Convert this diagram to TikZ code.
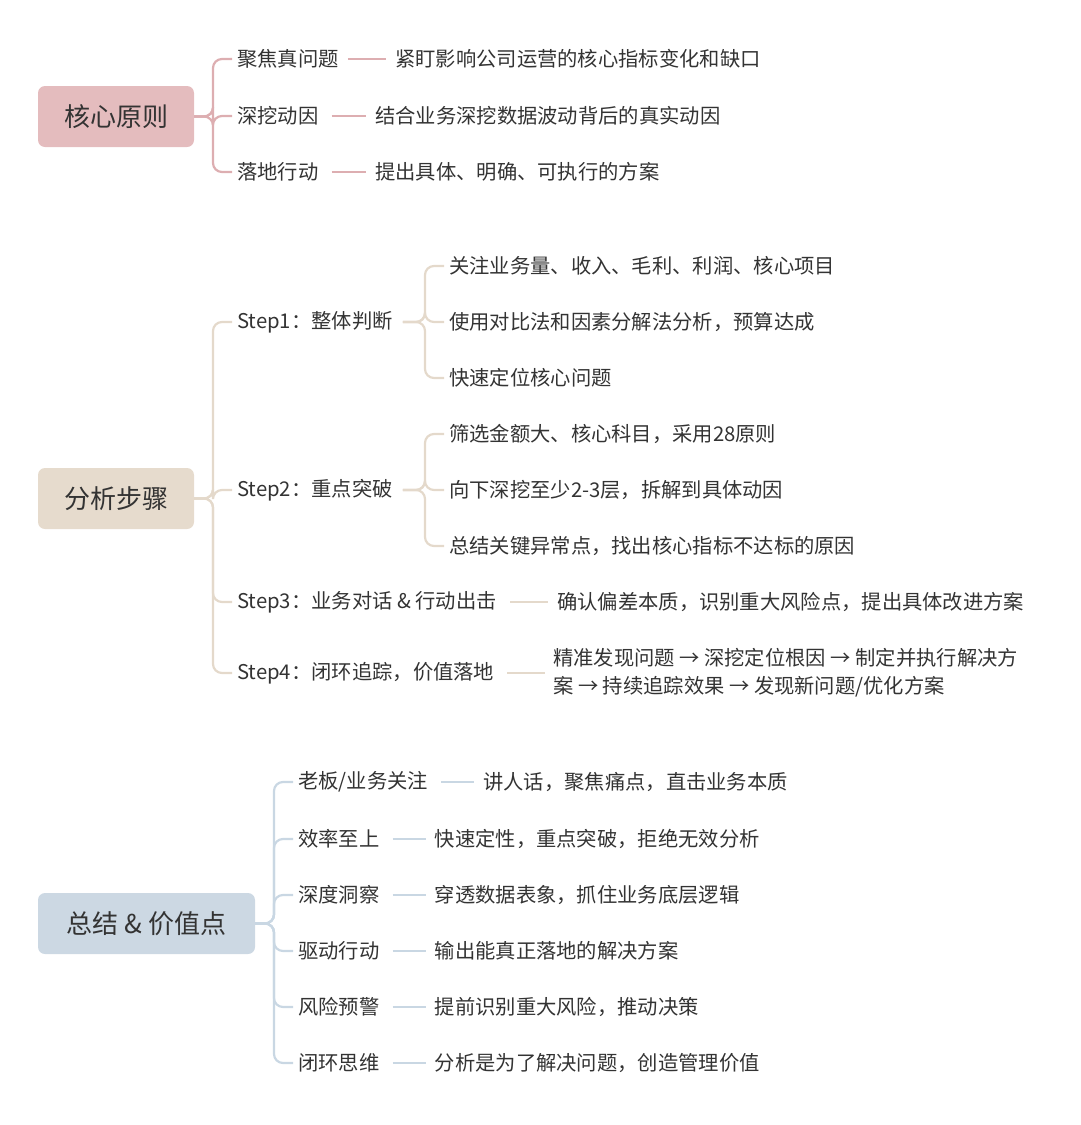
\documentclass[tikz,border=0pt]{standalone}
\usepackage{fontspec}
\setmainfont{Noto Sans CJK SC}
\definecolor{txt}{HTML}{333333}
\definecolor{pA}{HTML}{E4BCBE}\definecolor{lA}{HTML}{DDAEB1}
\definecolor{pB}{HTML}{E6DBCD}\definecolor{lB}{HTML}{E4D9CB}
\definecolor{pC}{HTML}{CCD8E3}\definecolor{lC}{HTML}{C9D7E3}
\tikzset{
 rootbox/.style={rounded corners=7pt,minimum height=61pt,text=txt,font=\fontsize{26}{30}\selectfont,inner xsep=22pt},
 item/.style={anchor=west,inner sep=0pt,text=txt,font=\fontsize{20.3}{28}\selectfont},
 ln/.style={line width=2.2pt,rounded corners=9pt},
}
\begin{document}
\begin{tikzpicture}[x=1pt,y=-1pt]
\useasboundingbox (0,0) rectangle (1080,1125);
% group 1
\node[rootbox,fill=pA,minimum width=156pt] (r1) at (116,116.5) {核心原则};
\node[item] (a1) at (237,59) {聚焦真问题};
\node[item] (a2) at (237,116) {深挖动因};
\node[item] (a3) at (237,172) {落地行动};
\node[item] (d1) at (395,59) {紧盯影响公司运营的核心指标变化和缺口};
\node[item] (d2) at (375,116) {结合业务深挖数据波动背后的真实动因};
\node[item] (d3) at (375,172) {提出具体、明确、可执行的方案};
\foreach \c in {a1,a2,a3}{\draw[ln,lA] (r1.east) -- (213,116.5) |- ([xshift=-5pt]\c.west);}
\draw[ln,lA] ([xshift=9pt]a1.east) -- ([xshift=-9pt]d1.west);
\draw[ln,lA] ([xshift=13pt]a2.east) -- ([xshift=-9pt]d2.west);
\draw[ln,lA] ([xshift=13pt]a3.east) -- ([xshift=-9pt]d3.west);
% group 2
\node[rootbox,fill=pB,minimum width=156pt] (r2) at (116,498.5) {分析步骤};
\node[item] (s1) at (237,322) {Step1：整体判断};
\node[item] (s2) at (237,490) {Step2：重点突破};
\node[item] (s3) at (237,602) {Step3：业务对话 \& 行动出击};
\node[item] (s4) at (237,673) {Step4：闭环追踪，价值落地};
\foreach \c in {s1,s2,s3,s4}{\draw[ln,lB] (r2.east) -- (213,498.5) |- ([xshift=-5pt]\c.west);}
\node[item] (e1) at (449,266) {关注业务量、收入、毛利、利润、核心项目};
\node[item] (e2) at (449,322) {使用对比法和因素分解法分析，预算达成};
\node[item] (e3) at (449,378) {快速定位核心问题};
\foreach \c in {e1,e2,e3}{\draw[ln,lB] ([xshift=10pt]s1.east) -- (425,322) |- ([xshift=-5pt]\c.west);}
\node[item] (f1) at (449,434) {筛选金额大、核心科目，采用28原则};
\node[item] (f2) at (449,490) {向下深挖至少2-3层，拆解到具体动因};
\node[item] (f3) at (449,546) {总结关键异常点，找出核心指标不达标的原因};
\foreach \c in {f1,f2,f3}{\draw[ln,lB] ([xshift=10pt]s2.east) -- (425,490) |- ([xshift=-5pt]\c.west);}
\node[item] (g3) at (557,602) {确认偏差本质，识别重大风险点，提出具体改进方案};
\draw[ln,lB] ([xshift=13pt]s3.east) -- ([xshift=-9pt]g3.west);
\node[item,align=left,font=\fontsize{20.3}{28}\selectfont] (g4) at (553,673) {精准发现问题 → 深挖定位根因 → 制定并执行解决方\\案 → 持续追踪效果 → 发现新问题/优化方案};
\draw[ln,lB] ([xshift=13pt]s4.east) -- ([xshift=-8pt]g4.west);
% group 3
\node[rootbox,fill=pC,minimum width=217pt] (r3) at (146.5,923.5) {总结 \& 价值点};
\foreach \i/\a/\b/\y in {1/老板\slash 业务关注/讲人话，聚焦痛点，直击业务本质/782,
 2/效率至上/快速定性，重点突破，拒绝无效分析/839,
 3/深度洞察/穿透数据表象，抓住业务底层逻辑/895,
 4/驱动行动/输出能真正落地的解决方案/951,
 5/风险预警/提前识别重大风险，推动决策/1007,
 6/闭环思维/分析是为了解决问题，创造管理价值/1063}{
 \node[item] (h\i) at (298,\y) {\a};
 \draw[ln,lC] (r3.east) -- (274,923.5) |- ([xshift=-5pt]h\i.west);
 \node[item] (k\i) at ([xshift=55pt]h\i.east) {\b};
 \draw[ln,lC] ([xshift=13pt]h\i.east) -- ([xshift=-9pt]k\i.west);
}
\end{tikzpicture}
\end{document}
